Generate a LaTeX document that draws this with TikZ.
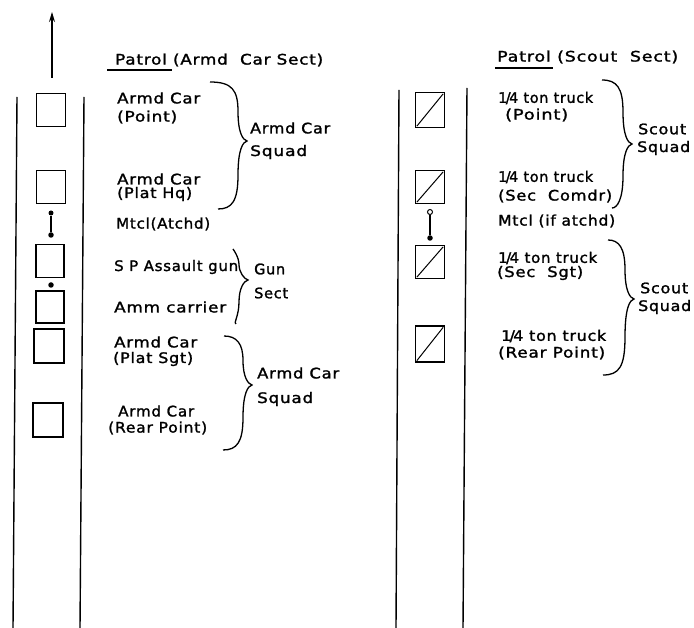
\documentclass[tikz,border=0pt]{standalone}
\usepackage{fontspec}
\usepackage{graphicx}
\setmainfont{DejaVu Sans}[LetterSpace=5,FakeBold=1.5]
\usetikzlibrary{arrows.meta}
\tikzset{
  road/.style={line width=1.4pt},
  veh/.style={draw,line width=1.3pt,minimum width=29pt,minimum height=33pt,inner sep=0pt},
  lbl/.style={anchor=west,inner sep=0pt,font=\fontsize{14.5}{15}\selectfont},
  ttl/.style={anchor=west,inner sep=0pt,font=\fontsize{14.5}{15}\selectfont},
  brc/.style={line width=1.3pt},
  opendot/.style={circle,draw,line width=1pt,fill=white,minimum size=5pt,inner sep=0pt},
  fulldot/.style={circle,fill,minimum size=5.5pt,inner sep=0pt},
  link/.style={line width=1.3pt}
}
\newcommand\txw[2]{\resizebox{#1pt}{\height}{#2}}
\newcommand\qtr{1\kern-1.5pt/\kern-1.5pt4}
\newcommand\bracecurve[6]{%
  \pgfmathsetmacro\bs{#3-9}%
  \pgfmathsetmacro\bma{(#2+#4)/2}%
  \pgfmathsetmacro\bmb{(#4+#6)/2}%
  \draw[brc] (#1,#2) .. controls ({\bs-6},{#2}) and (\bs,{#2+8}) .. (\bs,\bma)
    .. controls (\bs,{#4-8}) and ({#3-4},{#4-1}) .. (#3,#4)
    .. controls ({#3-4},{#4+1}) and (\bs,{#4+8}) .. (\bs,\bmb)
    .. controls (\bs,{#6-8}) and ({\bs-6},{#6}) .. (#5,#6);}
\begin{document}
\begin{tikzpicture}[x=1pt,y=-1pt]
\useasboundingbox (0,0) rectangle (694,628);
% ---------- left column ----------
\coordinate (arB) at (52,78);
\coordinate (arT) at (52,12);
\draw[road,-{Stealth[length=10pt,width=6pt]}] (arB) -- (arT);
\coordinate (l1t) at (17,97); \coordinate (l1b) at (13,628);
\coordinate (l2t) at (84,97); \coordinate (l2b) at (80,628);
\draw[road] (l1t) -- (l1b);
\draw[road] (l2t) -- (l2b);
\node[veh] (b1) at (51,110) {};
\node[veh] (b2) at (51,187) {};
\node[veh,minimum width=28pt] (b3) at (50,261) {};
\node[veh,minimum width=28pt,minimum height=32pt] (b4) at (50,307) {};
\node[veh,minimum width=30pt,minimum height=34pt] (b5) at (49,346) {};
\node[veh,minimum width=30pt,minimum height=34pt] (b6) at (48,420) {};
\node[fulldot,minimum size=5pt] (k1) at (51,213) {};
\node[fulldot] (k2) at (51,235) {};
\draw[link] (k1) -- (k2);
\node[fulldot] (k3) at (51,285) {};
% texts
\node[ttl] (tl) at (115,60) {\txw{208}{Patrol (Armd\ \ Car Sect)}};
\coordinate (ul1a) at (107,70); \coordinate (ul1b) at (172,70);
\draw[line width=1.3pt] (ul1a) -- (ul1b);
\node[lbl] (a1) at (117,98) {\txw{83}{Armd Car}};
\node[lbl] (a2) at (117,117) {\txw{60}{(Point)}};
\node[lbl] (s1a) at (250,128) {\txw{80}{Armd Car}};
\node[lbl] (s1b) at (250,152) {\txw{57}{Squad}};
\node[lbl] (c1) at (117,179) {\txw{83}{Armd Car}};
\node[lbl] (c2) at (117,194) {\txw{75}{(Plat Hq)}};
\node[lbl] (mt) at (116,224) {\txw{94}{Mtcl(Atchd)}};
\node[lbl] (sp) at (114,267) {\txw{124}{S P Assault gun}};
\node[lbl] (gun) at (254,269) {\txw{31}{Gun}};
\node[lbl] (sct) at (254,293) {\txw{34}{Sect}};
\node[lbl] (amm) at (114,307) {\txw{112}{Amm carrier}};
\node[lbl] (d1) at (114,342) {\txw{83}{Armd Car}};
\node[lbl] (d2) at (113,359) {\txw{80}{(Plat Sgt)}};
\node[lbl] (s2a) at (257,373) {\txw{82}{Armd Car}};
\node[lbl] (s2b) at (257,399) {\txw{56}{Squad}};
\node[lbl] (e1) at (118,411) {\txw{76}{Armd Car}};
\node[lbl] (e2) at (108,428) {\txw{99}{(Rear Point)}};
\bracecurve{210}{82}{247}{141}{218}{209}
\bracecurve{233}{249}{248}{280}{236}{324}
\bracecurve{224}{336}{252}{385}{223}{450}
% ---------- right column ----------
\coordinate (r1t) at (399,90); \coordinate (r1b) at (396,628);
\coordinate (r2t) at (467,88); \coordinate (r2b) at (463,628);
\draw[road] (r1t) -- (r1b);
\draw[road] (r2t) -- (r2b);
\node[veh,minimum height=35pt] (q1) at (430,110) {};
\node[veh] (q2) at (430,187) {};
\node[veh] (q3) at (430,262) {};
\node[veh,minimum height=36pt] (q4) at (430,344) {};
\foreach \q in {q1,q2,q3,q4}{\draw[line width=1pt] ([shift={(2,-2)}]\q.south west) -- ([shift={(-2,2)}]\q.north east);}
\node[opendot] (m1) at (430,212) {};
\node[fulldot] (m2) at (430,238) {};
\draw[link] (m1) -- (m2);
\node[ttl] (tr) at (497,57) {\txw{181}{Patrol (Scout\ \ Sect)}};
\coordinate (ul2a) at (495,68); \coordinate (ul2b) at (553,68);
\draw[line width=1.3pt] (ul2a) -- (ul2b);
\node[lbl] (f1) at (498,98) {\txw{95}{\qtr{} ton truck}};
\node[lbl] (f2) at (505,115) {\txw{63}{(Point)}};
\node[lbl] (t1a) at (638,129) {\txw{48}{Scout}};
\node[lbl] (t1b) at (637,148) {\txw{53}{Squad}};
\node[lbl] (g1) at (498,177) {\txw{95}{\qtr{} ton truck}};
\node[lbl] (g2) at (498,196) {\txw{114}{(Sec\ \ Comdr)}};
\node[lbl] (mt2) at (498,221) {\txw{117}{Mtcl (if atchd)}};
\node[lbl] (h1) at (498,258) {\txw{99}{\qtr{} ton truck}};
\node[lbl] (h2) at (497,273) {\txw{86}{(Sec\ \ Sgt)}};
\node[lbl] (t2a) at (640,288) {\txw{48}{Scout}};
\node[lbl] (t2b) at (638,307) {\txw{53}{Squad}};
\node[lbl] (i1) at (501,336) {\txw{105}{\qtr{} ton truck}};
\node[lbl] (i2) at (498,353) {\txw{107}{(Rear Point)}};
\bracecurve{602}{80}{632}{144}{612}{208}
\bracecurve{608}{240}{634}{299}{603}{375}
\end{tikzpicture}
\end{document}
